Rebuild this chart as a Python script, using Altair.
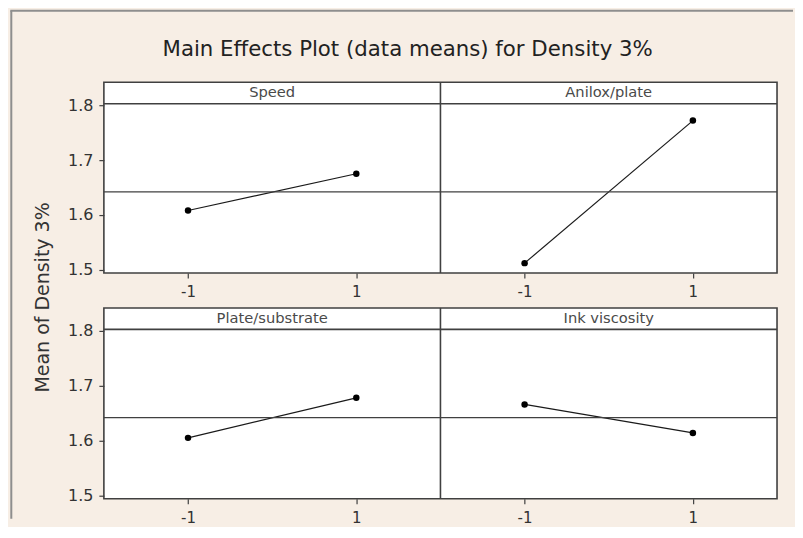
import json
import altair as alt
import pandas as pd

# ---- data ----
title_text = "Main Effects Plot (data means) for Density 3%"
y_title = "Mean of Density 3%"
factors = ["Speed", "Anilox/plate", "Plate/substrate", "Ink viscosity"]
levels = [-1, 1]
level_labels = ["-1", "1"]
speed_means = [1.608, 1.675]
anilox_means = [1.512, 1.772]
plate_means = [1.605, 1.678]
ink_means = [1.666, 1.614]
grand_mean = [1.642]
y_ticks = [1.5, 1.6, 1.7, 1.8]

# ---- tables built from the arrays ----
series = [speed_means, anilox_means, plate_means, ink_means]
df = pd.DataFrame({
    "factor": [f for f in factors for _ in levels],
    "level": levels * len(factors),
    "mean": [v for s in series for v in s],
    "row": [i // 2 for i in range(len(factors)) for _ in levels],
    "col": [i % 2 for i in range(len(factors)) for _ in levels],
})
names_df = pd.DataFrame({
    "factor": factors,
    "row": [i // 2 for i in range(len(factors))],
    "col": [i % 2 for i in range(len(factors))],
})
mean_df = pd.DataFrame({"grand_mean": grand_mean})
one_row = pd.DataFrame({"k": [0]})

# ---- styling / layout ----
SHIFT = 4                      # each panel spans 4 x-units: [-2, 2] and [2, 6]
div_df = pd.DataFrame({"xdiv": [SHIFT / 2]})
W, H = 674, 191
STRIP = 21.5
BG = "#f7eee5"
EDGE = "#404040"
FONT = "DejaVu Sans"

x_scale = alt.Scale(domain=[-SHIFT / 2, SHIFT * 1.5], nice=False, zero=False)
y_scale = alt.Scale(domain=[1.494, 1.842], nice=False, zero=False)
tick_vals = [l + SHIFT * c for c in (0, 1) for l in levels]
tick_labels = level_labels * 2
label_expr = f"{json.dumps(tick_labels)}[indexof({json.dumps(tick_vals)}, datum.value)]"
x_axis = alt.Axis(values=tick_vals, labelExpr=label_expr, labelFlush=False, title=None,
                  labelPadding=6.5, labelFontSize=15)


def row_chart(r, y_axis, with_frame):
    base = (
        alt.Chart(df)
        .transform_filter(alt.datum.row == r)
        .transform_calculate(xpos=f"datum.level + {SHIFT} * datum.col")
    )
    x_enc = alt.X("xpos:Q", scale=x_scale, axis=x_axis)
    y_enc = alt.Y("mean:Q", scale=y_scale, axis=y_axis)

    line = base.mark_line(color="#1a1a1a", strokeWidth=1.2).encode(
        x=x_enc, y=y_enc, detail="factor:N"
    )
    mean_rule = alt.Chart(mean_df).mark_rule(color=EDGE, strokeWidth=1.3).encode(
        y=alt.Y("grand_mean:Q", scale=y_scale, axis=y_axis)
    )
    divider = alt.Chart(div_df).mark_rule(color=EDGE, strokeWidth=1.6).encode(
        x=alt.X("xdiv:Q", scale=x_scale, axis=x_axis)
    )
    pts = base.mark_circle(size=42, color="#000000", opacity=1).encode(x=x_enc, y=y_enc)
    strip_rule = alt.Chart(one_row).mark_rule(color=EDGE, strokeWidth=1.6).encode(
        x=alt.value(0), x2=alt.value(W), y=alt.value(STRIP)
    )
    strip_text = (
        alt.Chart(names_df)
        .transform_filter(alt.datum.row == r)
        .transform_calculate(xc=f"{SHIFT} * datum.col")
        .mark_text(font=FONT, fontSize=14.7, color="#4a4a4a", align="center", baseline="middle")
        .encode(x=alt.X("xc:Q", scale=x_scale, axis=x_axis), y=alt.value(STRIP / 2 + 0.5),
                text="factor:N")
    )
    layers = [line, mean_rule, divider, pts, strip_rule, strip_text]
    if with_frame:
        left_border = alt.Chart(one_row).mark_rule(color="#8e8e8e", strokeWidth=2).encode(
            x=alt.value(-92.7), y=alt.value(-71.5), y2=alt.value(437)
        )
        top_border = alt.Chart(one_row).mark_rule(color="#8e8e8e", strokeWidth=2).encode(
            x=alt.value(-93.7), x2=alt.value(690), y=alt.value(-71.5)
        )
        layers += [left_border, top_border]
    return alt.layer(*layers).properties(width=W, height=H)


y_axis_top = alt.Axis(values=y_ticks, format=".1f", title=y_title, titleY=215)
y_axis_bottom = alt.Axis(values=y_ticks, format=".1f", title=None)

chart = alt.vconcat(
    row_chart(0, y_axis_top, True),
    row_chart(1, y_axis_bottom, False),
    spacing=35,
    bounds="flush",
).properties(
    title=alt.TitleParams(
        text=title_text, font=FONT, fontSize=21.3, fontWeight="normal", color="#222222",
        anchor="middle", frame="bounds", baseline="alphabetic", offset=-68, dx=6,
    ),
    background=BG,
    padding=0,
).configure_axis(
    labelFont=FONT, labelFontSize=16, labelColor="#333333",
    tickColor=EDGE, tickSize=5, tickWidth=1.2, domain=False, grid=False,
    labelPadding=6, titleFont=FONT, titleFontSize=19, titleColor="#333333",
    titleFontWeight="normal", titlePadding=15,
).configure_view(fill="white", stroke=EDGE, strokeWidth=1.6)

chart.save("out.html", embed_options={"renderer": "svg", "actions": False})
